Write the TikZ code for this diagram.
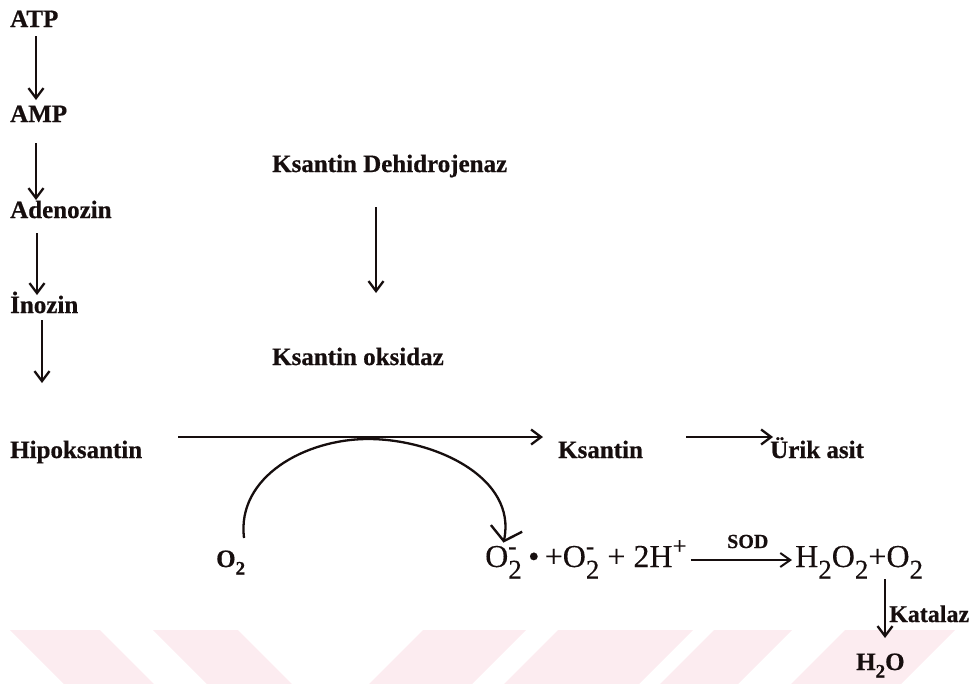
\documentclass[tikz,border=0pt]{standalone}
\usepackage{fontspec}
\setmainfont{Liberation Serif}[BoldFeatures={FakeBold=0.6},UprightFeatures={FakeBold=0.25}]
\usetikzlibrary{arrows.meta}
\definecolor{wm}{RGB}{252,236,240}
\definecolor{ink}{RGB}{22,14,14}
\newcommand\lowt[1]{\raisebox{-0.36em}{\fontsize{27}{27}\selectfont #1}}
\newcommand\hight[1]{\raisebox{0.4em}{\fontsize{25}{25}\selectfont #1}}
\newcommand\both[2]{\rlap{\hight{#2}}\lowt{#1}}
\newcommand\smsub[1]{\raisebox{-0.3em}{\fontsize{19}{19}\selectfont #1}}
\begin{document}
\begin{tikzpicture}[x=1pt,y=-1pt, color=ink,
  lbl/.style={font=\fontsize{25}{25}\selectfont\bfseries, inner sep=0pt, anchor=base west, text=ink},
  frm/.style={font=\fontsize{32}{32}\selectfont, inner sep=0pt, anchor=base west, text=ink},
  arr/.style={line width=2.3pt, -{Straight Barb[length=10pt,width=15pt,line width=2.3pt]}},
  curvearr/.style={line width=2.3pt, -{Straight Barb[length=13pt,width=32pt,line width=2.4pt]}},
]
\useasboundingbox (0,0) rectangle (973,683);
% watermark stripes
\fill[wm] (10,630) -- (100,630) -- (154,684) -- (64,684) -- cycle;
\fill[wm] (153,630) -- (238,630) -- (292,684) -- (207,684) -- cycle;
\fill[wm] (423,630) -- (526,630) -- (472,684) -- (369,684) -- cycle;
\fill[wm] (558,630) -- (693,630) -- (639,684) -- (504,684) -- cycle;
\fill[wm] (714,630) -- (792,630) -- (738,684) -- (660,684) -- cycle;
\fill[wm] (845,630) -- (955,630) -- (901,684) -- (791,684) -- cycle;

% left column
\node[lbl] (atp) at (10,27) {ATP};
\node[lbl] (amp) at (10,122) {AMP};
\node[lbl] (ade) at (10,218) {Adenozin};
\node[lbl] (ino) at (10,313) {İnozin};
\node[lbl] (hip) at (10,458) {Hipoksantin};
\draw[arr] ([shift={(26,9)}]atp.base west) -- ([shift={(26,-22)}]amp.base west);
\draw[arr] ([shift={(26,21)}]amp.base west) -- ([shift={(26,-18)}]ade.base west);
\draw[arr] ([shift={(27,15)}]ade.base west) -- ([shift={(27,-18)}]ino.base west);
\draw[arr] ([shift={(32,7)}]ino.base west) -- ([shift={(32,-75)}]hip.base west);

% enzymes
\node[lbl] (kd) at (272,172) {Ksantin Dehidrojenaz};
\node[lbl] (ko) at (272,365) {Ksantin oksidaz};
\draw[arr] ([shift={(104,35)}]kd.base west) -- ([shift={(104,-72)}]ko.base west);

% main row
\node[lbl] (ks) at (558,458) {Ksantin};
\node[lbl] (ur) at (770,458) {Ürik asit};
\draw[arr] ([shift={(168,-21)}]hip.base west) -- ([shift={(-15,-21)}]ks.base west);
\draw[arr] ([shift={(128,-21)}]ks.base west) -- ([shift={(3,-21)}]ur.base west);

% oxygen branch
\node[font=\fontsize{25}{25}\selectfont\bfseries, inner sep=0pt, anchor=base west, text=ink] (o2) at (216,567) {O\smsub{\bfseries 2}};
\node[frm] (rad) at (485,567) {O\both{2}{-}};
\node[frm] (lhs) at ([xshift=6pt]rad.base east) {\textbullet\,+O\both{2}{-} + 2H\hight{+}};
\node[frm] (rhs) at (795,567) {H\lowt{2}O\lowt{2}+O\lowt{2}};
\coordinate (apex) at (368,439);
\draw[curvearr] ([shift={(28,-29)}]o2.base west) to[out=97,in=180] (apex) to[out=0,in=78] ([shift={(0,-3)}]rad.north);

\node[font=\fontsize{20}{20}\selectfont\bfseries, inner sep=0pt, anchor=base west, text=ink] (sod) at (727,548) {SOD};
\draw[line width=2pt, -{Straight Barb[length=10pt,width=14pt,line width=2pt]}] ([shift={(4,-7)}]lhs.base east) -- ([shift={(-3,-7)}]rhs.base west);

\node[font=\fontsize{25}{25}\selectfont\bfseries, inner sep=0pt, anchor=base west, text=ink] (h2o) at (856,670) {H\smsub{\bfseries 2}O};
\node[font=\fontsize{24}{24}\selectfont\bfseries, inner sep=0pt, anchor=base west, text=ink] (kat) at (889,622) {Katalaz};
\draw[arr] ([shift={(90,12)}]rhs.base west) -- ([shift={(29,-32)}]h2o.base west);
\end{tikzpicture}
\end{document}
